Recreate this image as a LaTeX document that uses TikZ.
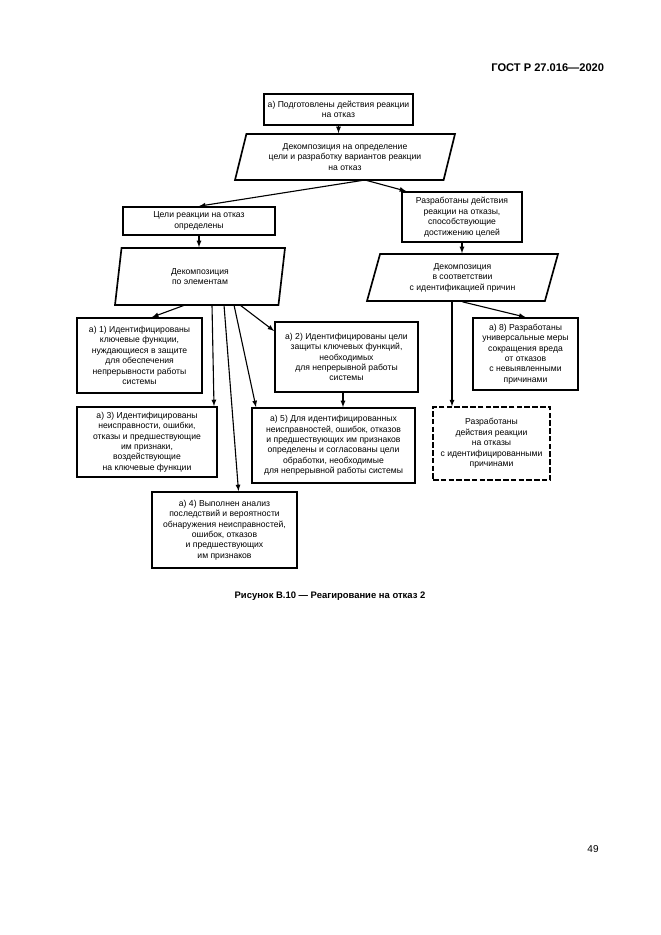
\documentclass[tikz,border=0pt]{standalone}
\usepackage{fontspec}
\setmainfont{Liberation Sans}
\usetikzlibrary{shapes,arrows,positioning,calc}
\newcommand{\pxu}{0.9pt}

\begin{document}
\begin{tikzpicture}[x=0.9pt, y=-0.9pt, >=latex,
    box/.style={draw, line width=1.5pt, align=center, inner sep=1pt,
        font=\fontsize{7.75}{9.4}\selectfont},
    dbox/.style={box, line width=1.2pt, dash pattern=on 5pt off 2pt},
    para/.style={trapezium, trapezium stretches body, draw, line width=1.5pt,
        align=center, inner sep=1pt, font=\fontsize{7.75}{9.4}\selectfont},
    link/.style={->, line width=1pt}]
    \useasboundingbox (0,0) rectangle (661,935);

    % Page header and footer
    \node[anchor=east, font=\bfseries\fontsize{10}{12}\selectfont] (hdr) at (608,68) {ГОСТ Р 27.016—2020};
    \node[font=\fontsize{9}{11}\selectfont] (pg) at (593,849) {49};

    % Top of the scheme
    \node[box, minimum width=149*\pxu, minimum height=31*\pxu] (top) at (338.5,109.5)
        {а) Подготовлены действия реакции\\на отказ};
    \node[para, trapezium left angle=68.6, trapezium right angle=111.4,
        minimum width=220*\pxu, minimum height=46*\pxu] (dec1) at (345,157)
        {Декомпозиция на определение\\цели и разработку вариантов реакции\\на отказ};

    % Second level
    \node[box, minimum width=152*\pxu, minimum height=28*\pxu] (goals) at (199,221)
        {Цели реакции на отказ\\определены};
    \node[box, minimum width=120*\pxu, minimum height=50*\pxu] (acts) at (462,217)
        {Разработаны действия\\реакции на отказы,\\способствующие\\достижению целей};

    % Decompositions
    \node[para, trapezium left angle=70.7, trapezium right angle=109.3,
        minimum width=170*\pxu, minimum height=57*\pxu] (decel) at (200,276.5)
        {Декомпозиция\\по элементам};
    \node[para, trapezium left angle=67, trapezium right angle=113,
        minimum width=191*\pxu, minimum height=47*\pxu] (deccs) at (462.5,277.5)
        {Декомпозиция\\в соответствии\\с идентификацией причин};

    % Result boxes
    \node[box, minimum width=125*\pxu, minimum height=75*\pxu] (a1) at (139.5,355.5)
        {а) 1) Идентифицированы\\ключевые функции,\\нуждающиеся в защите\\для обеспечения\\непрерывности работы\\системы};
    \node[box, minimum width=143*\pxu, minimum height=70*\pxu] (a2) at (346.5,357)
        {а) 2) Идентифицированы цели\\защиты ключевых функций,\\необходимых\\для непрерывной работы\\системы};
    \node[box, minimum width=105*\pxu, minimum height=72*\pxu] (a8) at (525.5,354)
        {а) 8) Разработаны\\универсальные меры\\сокращения вреда\\от отказов\\с невыявленными\\причинами};
    \node[box, minimum width=140*\pxu, minimum height=70*\pxu] (a3) at (147,442)
        {а) 3) Идентифицированы\\неисправности, ошибки,\\отказы и предшествующие\\им признаки,\\воздействующие\\на ключевые функции};
    \node[box, minimum width=163*\pxu, minimum height=75*\pxu] (a5) at (333.5,445.5)
        {а) 5) Для идентифицированных\\неисправностей, ошибок, отказов\\и предшествующих им признаков\\определены и согласованы цели\\обработки, необходимые\\для непрерывной работы системы};
    \node[dbox, minimum width=117*\pxu, minimum height=73*\pxu] (actid) at (491.5,443.5)
        {Разработаны\\действия реакции\\на отказы\\с идентифицированными\\причинами};
    \node[box, minimum width=145*\pxu, minimum height=76*\pxu] (a4) at (224.5,530)
        {а) 4) Выполнен анализ\\последствий и вероятности\\обнаружения неисправностей,\\ошибок, отказов\\и предшествующих\\им признаков};

    % Caption
    \node[font=\bfseries\fontsize{8.5}{10}\selectfont] (cap) at (330,596)
        {Рисунок В.10 — Реагирование на отказ 2};

    % Connectors
    \draw[link] (top.south) -- (top.south |- dec1.north);
    \draw[link] ($(dec1.center)+(20,23)$) -- (goals.north);
    \draw[link] ($(dec1.center)+(20,23)$) -- ($(acts.north west)+(5,0)$);
    \draw[link] (goals.south) -- (goals.south |- decel.north);
    \draw[link] (acts.south) -- (acts.south |- deccs.north);

    % From decomposition by elements
    \draw[link] ($(decel.center)+(-15,28.5)$) -- ($(a1.north)+(12.5,0)$);
    \draw[link] ($(decel.center)+(12,28.5)$) -- ($(a3.north)+(67,0)$);
    \draw[link] ($(decel.center)+(24,28.5)$) -- ($(a4.north)+(14,0)$);
    \draw[link] ($(decel.center)+(34,28.5)$) -- ($(a5.north)+(-77.5,0)$);
    \draw[link] ($(decel.center)+(40,28.5)$) -- ($(a2.west)+(0,-26)$);
    \coordinate (a2out) at ($(a2.south)+(-3.5,0)$);
    \draw[link] (a2out) -- (a2out |- a5.north);

    % From decomposition by causes
    \draw[link] (deccs.south) -- (a8.north);
    \coordinate (csout) at ($(actid.north)+(-39.5,0)$);
    \draw[link] (csout |- deccs.south) -- (csout);
\end{tikzpicture}
\end{document}
